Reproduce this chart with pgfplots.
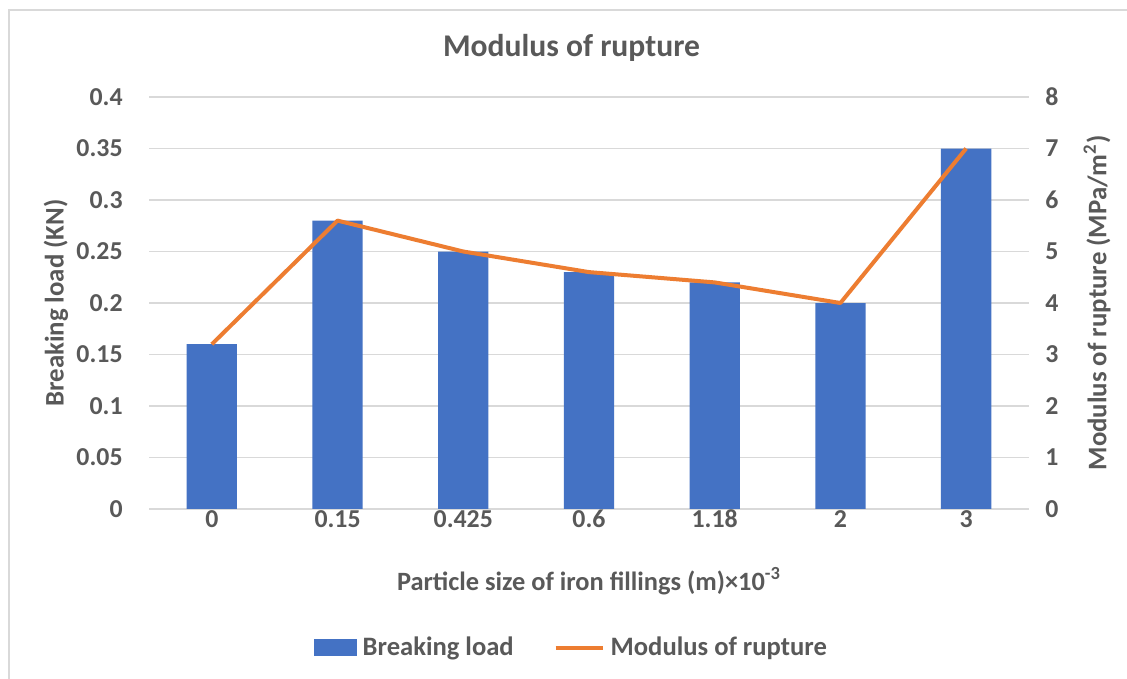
\documentclass[border=0pt]{standalone}
\usepackage{fontspec}
\setmainfont{Carlito}
\usepackage{pgfplots}
\pgfplotsset{compat=1.18}
\definecolor{txt}{HTML}{595959}
\definecolor{gridc}{HTML}{D9D9D9}
\definecolor{barblue}{HTML}{4472C4}
\definecolor{lineorange}{HTML}{ED7D31}
\begin{document}
\begin{tikzpicture}
\useasboundingbox (0bp,0bp) rectangle (563.5bp,339.5bp);
\fill[white] (0bp,0bp) rectangle (563.5bp,339.5bp);
\draw[gridc, line width=1bp] (4.25bp,-1bp) -- (4.25bp,334.5bp) -- (565bp,334.5bp);
\node[font=\fontsize{15.8bp}{18bp}\selectfont\bfseries, text=txt, anchor=base] at (285.75bp,311bp) {Modulus of rupture};
\begin{axis}[
  at={(74.5bp,85bp)}, anchor=south west,
  scale only axis, width=440bp, height=206bp,
  xmin=-0.5, xmax=6.5, ymin=0, ymax=0.4,
  xtick={0,1,2,3,4,5,6}, xticklabels={0,0.15,0.425,0.6,1.18,2,3},
  ytick={0,0.05,0.1,0.15,0.2,0.25,0.3,0.35,0.4},
  yticklabels={0,0.05,0.1,0.15,0.2,0.25,0.3,0.35,0.4},
  axis line style={draw=none}, major tick length=0pt,
  ymajorgrids, grid style={gridc, line width=0.9bp},
  ticklabel style={font=\fontsize{12.9bp}{14bp}\selectfont\bfseries, text=txt},
  yticklabel style={anchor=east, inner sep=0pt, xshift=-13bp},
  xticklabel style={anchor=base, inner sep=0pt, yshift=-9bp},
  xlabel={Particle size of iron fillings (m)×10\textsuperscript{-3}},
  xlabel style={at={(axis description cs:0.5,0)}, anchor=base, yshift=-40.5bp, inner sep=0pt, font=\fontsize{13.2bp}{15bp}\selectfont\bfseries, text=txt},
  ylabel={Breaking load (KN)},
  ylabel style={at={(axis description cs:0,0.5)}, anchor=center, yshift=46.5bp, inner sep=0pt, font=\fontsize{13.4bp}{15bp}\selectfont\bfseries, text=txt},
  legend style={at={(axis description cs:0.481,-0.337)}, anchor=center, draw=none, fill=none,
    legend columns=2, font=\fontsize{13.3bp}{15bp}\selectfont\bfseries, text=txt,
    /tikz/every odd column/.append style={column sep=1bp},
    /tikz/every even column/.append style={column sep=18bp}},
  legend cell align=left,
]
\addplot[ybar, bar width=0.4, fill=barblue, draw=none,
  legend image code/.code={\fill[barblue] (0bp,-4.25bp) rectangle (21.5bp,4.25bp);}]
  coordinates {(0,0.16) (1,0.28) (2,0.25) (3,0.23) (4,0.22) (5,0.20) (6,0.35)};
\addlegendentry{Breaking load}
\addlegendimage{legend image code/.code={\draw[lineorange, line width=2bp] (0bp,0bp) -- (23.5bp,0bp);}}
\addlegendentry{Modulus of rupture}
\end{axis}
\begin{axis}[
  at={(74.5bp,85bp)}, anchor=south west,
  scale only axis, width=440bp, height=206bp,
  xmin=-0.5, xmax=6.5, ymin=0, ymax=8,
  axis y line*=right, axis x line=none,
  axis line style={draw=none}, major tick length=0pt,
  ytick={0,1,2,3,4,5,6,7,8}, yticklabels={0,1,2,3,4,5,6,7,8},
  ticklabel style={font=\fontsize{12.9bp}{14bp}\selectfont\bfseries, text=txt},
  yticklabel style={anchor=west, inner sep=0pt, xshift=8bp},
  ylabel={Modulus of rupture (MPa/m\textsuperscript{2})},
  ylabel style={at={(axis description cs:1,0.5)}, anchor=center, yshift=-34bp, inner sep=0pt, font=\fontsize{13.4bp}{15bp}\selectfont\bfseries, text=txt},
]
\addplot[lineorange, line width=2bp, mark=none, line join=round]
  coordinates {(0,3.2) (1,5.6) (2,5.0) (3,4.6) (4,4.4) (5,4.0) (6,7.0)};
\end{axis}
\end{tikzpicture}
\end{document}
